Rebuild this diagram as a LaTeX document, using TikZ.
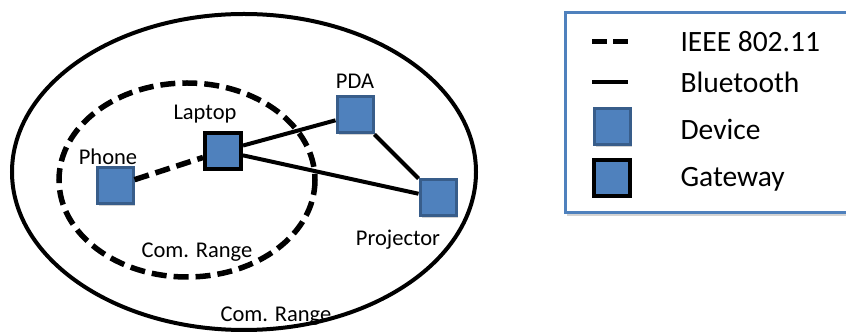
\documentclass[tikz,border=0pt]{standalone}
\usepackage{fontspec}
\setmainfont{Carlito}
\usetikzlibrary{shadows}
\definecolor{devblue}{HTML}{4F81BD}
\definecolor{devedge}{HTML}{385D8A}
\tikzset{
  device/.style={draw=devedge, fill=devblue, line width=3pt, minimum size=36pt,
    inner sep=0pt, drop shadow={opacity=0.35, shadow xshift=2pt, shadow yshift=-2pt}},
  gateway/.style={device, draw=black, line width=4pt},
  wifi/.style={line width=5.5pt, dash pattern=on 15pt off 7pt},
  blue/.style={line width=4pt},
  lbl/.style={font=\fontsize{22.5}{26}\selectfont},
  legtext/.style={font=\fontsize{29.5}{33}\selectfont, anchor=west}
}
\begin{document}
\begin{tikzpicture}[x=1pt,y=-1pt]
\useasboundingbox (0,0) rectangle (846,336);

% Ranges
\draw[line width=4pt] (244,172) ellipse [x radius=232, y radius=158];
\draw[wifi] (187,180) ellipse [x radius=128, y radius=97];
\node[lbl] (outerrange) at (276,316) {Com. Range};
\node[lbl] (innerrange) at (197,252) {Com. Range};

% Devices
\node[device] (phone) at (115,186) {};
\node[gateway] (laptop) at (223,151) {};
\node[device] (pda) at (355,115) {};
\node[device] (projector) at (438,198) {};

% Labels
\node[lbl] (phonelbl) at (108,157) {Phone};
\node[lbl] (laptoplbl) at (205,114) {Laptop};
\node[lbl] (pdalbl) at (355,81) {PDA};
\node[lbl] (projectorlbl) at (398,240) {Projector};

% Links
\draw[wifi] (phone) -- (laptop);
\draw[blue] (laptop) -- (pda);
\draw[blue] (laptop) -- (projector);
\draw[blue] (pda) -- (projector);

% Legend
\draw[draw=devblue, line width=3pt, fill=white,
  drop shadow={opacity=0.35, shadow xshift=2pt, shadow yshift=-3pt}] (565,13) rectangle (860,213);
\coordinate (w1) at (592,42);
\coordinate (w2) at (628,42);
\coordinate (b1) at (592,82);
\coordinate (b2) at (628,82);
\draw[line width=5pt, dash pattern=on 15pt off 6pt] (w1) -- (w2);
\draw[line width=4pt] (b1) -- (b2);
\node[device] (legdevice) at (612,127) {};
\node[gateway] (leggateway) at (612,178) {};
\node[legtext] (t1) at (677,42) {IEEE 802.11};
\node[legtext] (t2) at (677,82) {Bluetooth};
\node[legtext] (t3) at (677,129) {Device};
\node[legtext] (t4) at (677,179) {Gateway};
\end{tikzpicture}
\end{document}
